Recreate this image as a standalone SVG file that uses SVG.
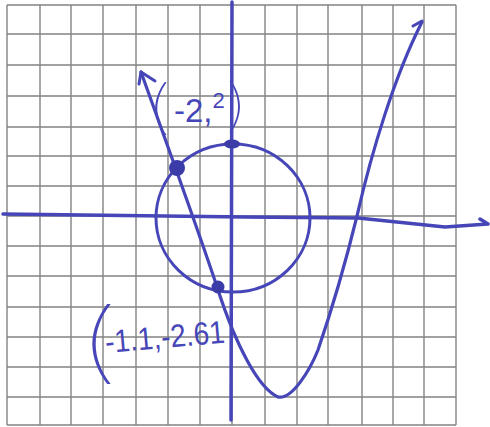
<svg xmlns="http://www.w3.org/2000/svg" width="490" height="427" viewBox="0 0 490 427">
<style>
.grid{stroke:#6e6e6e;stroke-width:1.4;fill:none;opacity:0.85}
.ink{stroke:#4646b8;fill:none;stroke-linecap:round;stroke-linejoin:round}
.dot{fill:#3c3ca8}
.lbl{fill:#4646b8;font-family:"Liberation Sans",Arial,sans-serif}
.par{fill:#4646b8;font-family:Inter,"Liberation Sans",sans-serif;font-weight:100}
</style>
<rect width="490" height="427" fill="#ffffff"/>
<g id="grid" class="grid">
<path d="M7,5V425M40,5V425M71,5V425M103,5V425M136,5V425M168,5V425M200,5V425M232,5V425M265,5V425M297,5V425M328,5V425M362,5V425M393,5V425M424,5V425M456,5V425"/>
<path d="M7,5H456M7,34H456M7,65H456M7,96H456M7,127H456M7,156H456M7,186H456M7,216H456M7,246H456M7,276H456M7,307H456M7,337H456M7,367H456M7,397H456M7,425H456"/>
</g>
<g id="connectors">
<path id="y-axis" class="ink" stroke-width="3.5" d="M232,2 L231,420"/>
<path id="x-axis" class="ink" stroke-width="3.5" d="M3,214 L245,217 L358,218 L445,227 L488,224 M480,219 L488,224"/>
<ellipse id="circle" class="ink" stroke-width="3" cx="233" cy="218" rx="77" ry="74"/>
<path id="curve" class="ink" stroke-width="3.2" d="M141,72 C160,125 200,235 218,290 C236,345 258,388 278,397 C292,400 310,370 318,350 C330,315 345,265 357,216 C372,150 395,75 422,22"/>
<path class="ink" stroke-width="3" d="M139,84 L141,72 L155,81"/>
<path class="ink" stroke-width="3" d="M413,26 L422,21"/>
</g>
<g id="point-a"><circle class="dot" cx="177" cy="168" r="8"/></g>
<g id="point-b"><ellipse class="dot" cx="232" cy="144" rx="8" ry="4.5"/></g>
<g id="point-c"><circle class="dot" cx="218" cy="287" r="6.5"/></g>
<g id="label-a">
<text class="par" font-size="40" transform="translate(145,127) scale(2.2,1.45)">(</text>
<text class="lbl" font-size="33" x="174" y="122">-2,<tspan font-size="22" dy="-14">2</tspan></text>
<text class="par" font-size="40" transform="translate(224,124) scale(2,1.4)">)</text>
</g>
<g id="label-b">
<text class="par" font-size="44" transform="translate(76,372) scale(3.2,2.0)">(</text>
<text class="lbl" font-size="32" x="106" y="353" textLength="120" lengthAdjust="spacingAndGlyphs" transform="rotate(-5,106,353)">-1.1,-2.61</text>
</g>
</svg>
